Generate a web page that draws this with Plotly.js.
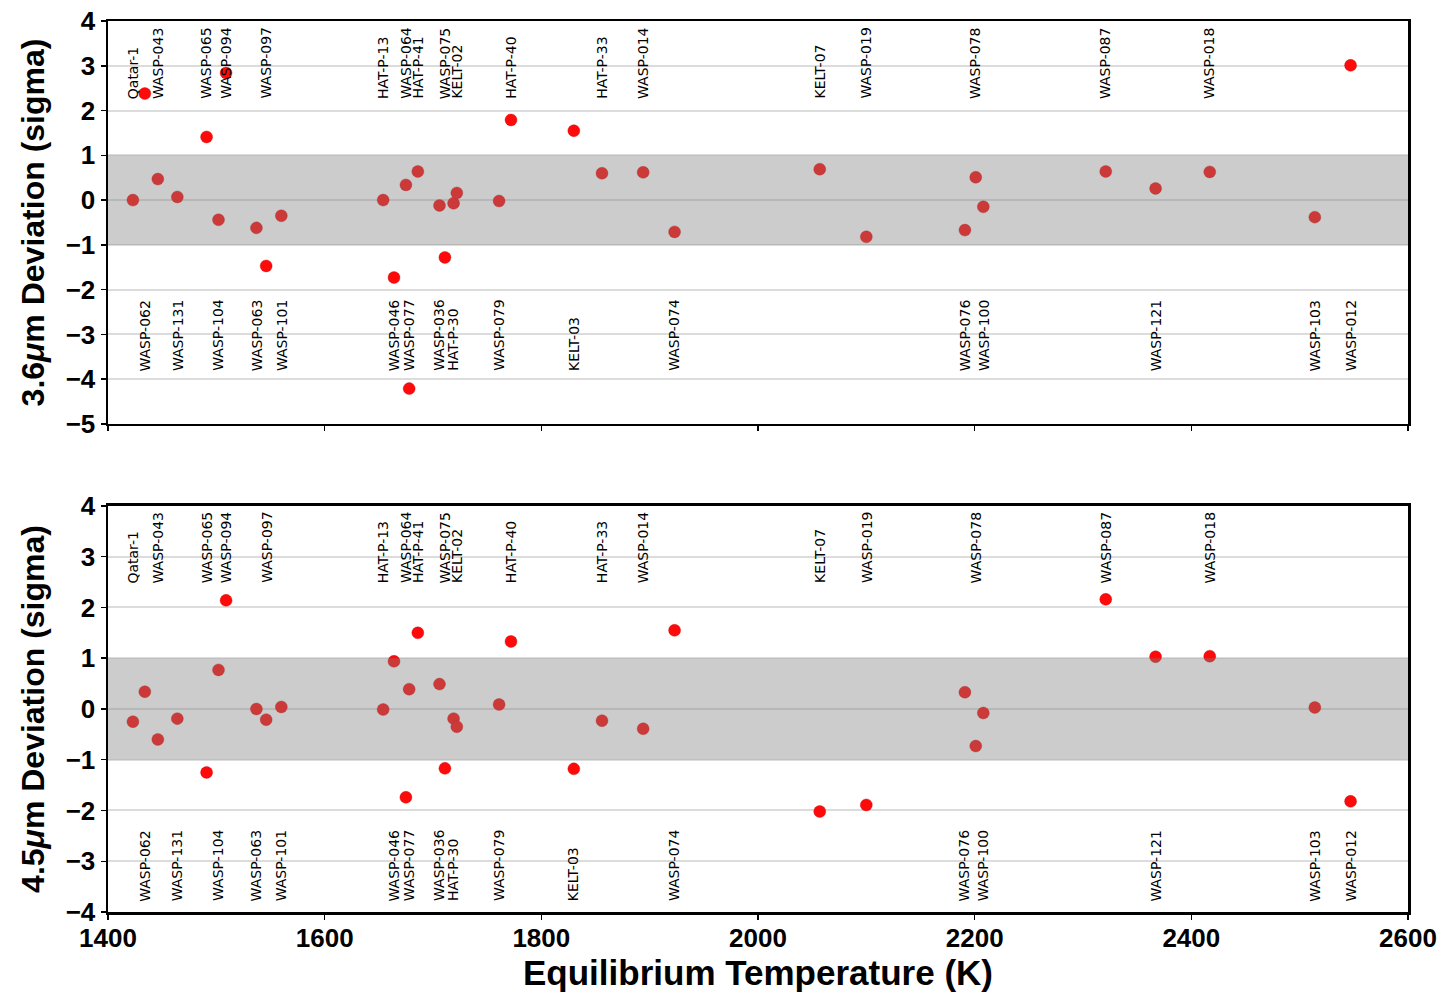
<!DOCTYPE html>
<html>
<head>
<meta charset="utf-8">
<script src="https://cdn.plot.ly/plotly-3.0.1.min.js"></script>
<style>
  html, body { margin: 0; padding: 0; background: white; }
  #chart { width: 1450px; height: 1002px; }
</style>
</head>
<body>
<div id="chart"></div>
<script>
// planets sorted by equilibrium temperature (K)
const planets = ['Qatar-1', 'WASP-062', 'WASP-043', 'WASP-131', 'WASP-065', 'WASP-104', 'WASP-094',
  'WASP-063', 'WASP-097', 'WASP-101', 'HAT-P-13', 'WASP-046', 'WASP-064', 'WASP-077', 'HAT-P-41',
  'WASP-036', 'WASP-075', 'HAT-P-30', 'KELT-02', 'WASP-079', 'HAT-P-40', 'KELT-03', 'HAT-P-33',
  'WASP-014', 'WASP-074', 'KELT-07', 'WASP-019', 'WASP-076', 'WASP-078', 'WASP-100', 'WASP-087',
  'WASP-121', 'WASP-018', 'WASP-103', 'WASP-012'];

const teq = [1423, 1434, 1446, 1464, 1491, 1502, 1509,
  1537, 1546, 1560, 1654, 1664, 1675, 1678, 1686,
  1706, 1711, 1719, 1722, 1761, 1772, 1830, 1856,
  1894, 1923, 2057, 2100, 2191, 2201, 2208, 2321,
  2367, 2417, 2514, 2547];

const dev36 = [0.00, 2.38, 0.47, 0.07, 1.41, -0.44, 2.84,
  -0.62, -1.47, -0.35, 0.00, -1.73, 0.34, -4.21, 0.64,
  -0.12, -1.28, -0.07, 0.16, -0.02, 1.79, 1.55, 0.60,
  0.62, -0.71, 0.69, -0.82, -0.67, 0.51, -0.15, 0.64,
  0.26, 0.63, -0.38, 3.01];

const dev45 = [-0.25, 0.34, -0.60, -0.19, -1.25, 0.77, 2.14,
  0.00, -0.21, 0.04, -0.01, 0.94, -1.74, 0.39, 1.50,
  0.49, -1.17, -0.19, -0.35, 0.09, 1.33, -1.18, -0.23,
  -0.39, 1.55, -2.02, -1.89, 0.33, -0.73, -0.08, 2.16,
  1.03, 1.04, 0.03, -1.82];

// names whose label sits in the lower row
const lowerRow = ['WASP-062', 'WASP-131', 'WASP-104', 'WASP-063', 'WASP-101', 'WASP-046', 'WASP-077',
  'WASP-036', 'HAT-P-30', 'WASP-079', 'KELT-03', 'WASP-074', 'WASP-076', 'WASP-100', 'WASP-121',
  'WASP-103', 'WASP-012'];

const xTicks = [1400, 1600, 1800, 2000, 2200, 2400, 2600];
const yTicks36 = [-5, -4, -3, -2, -1, 0, 1, 2, 3, 4];
const yTicks45 = [-4, -3, -2, -1, 0, 1, 2, 3, 4];

const tickFont = { family: 'Liberation Sans, Arial, sans-serif', size: 26, color: 'black', weight: 'bold' };
const titleFont = { family: 'Liberation Sans, Arial, sans-serif', size: 32, color: 'black', weight: 'bold' };

function minusText(v) {
  return v < 0 ? '\u2212' + Math.abs(v) : String(v);
}

function scatter(y, xa, ya) {
  return {
    x: teq, y: y, xaxis: xa, yaxis: ya,
    type: 'scatter', mode: 'markers',
    marker: { color: '#ff0a0a', size: 12, line: { color: 'rgba(190,0,0,0.6)', width: 0.6 } },
    hoverinfo: 'text', text: planets
  };
}

const axisCommon = {
  showline: true, mirror: true, linecolor: 'black', linewidth: 2.5,
  ticks: 'outside', ticklen: 5, tickwidth: 1.5, tickcolor: 'black',
  tickfont: tickFont, zeroline: false, fixedrange: true
};

function xaxis(anchor, showLabels) {
  return Object.assign({}, axisCommon, {
    anchor: anchor, range: [1400, 2600], tickvals: xTicks,
    showgrid: false, showticklabels: showLabels, ticklabelstandoff: -4
  });
}

function yaxis(anchor, domain, range, ticks) {
  return Object.assign({}, axisCommon, {
    anchor: anchor, domain: domain, range: range,
    tickvals: ticks, ticktext: ticks.map(minusText),
    showgrid: true, gridcolor: '#dcdcdc', gridwidth: 2
  });
}

const layout = {
  width: 1450, height: 1002,
  paper_bgcolor: 'white', plot_bgcolor: 'white',
  margin: { l: 108, r: 42, t: 21, b: 90 },
  showlegend: false,
  font: { family: 'DejaVu Sans, sans-serif', color: 'black' },
  xaxis: xaxis('y', false),
  yaxis: Object.assign(yaxis('x', [0.5477, 1], [-5, 4], yTicks36), {
    title: { text: '3.6<i>μ</i>m Deviation (sigma)', font: titleFont, standoff: 12 }
  }),
  xaxis2: Object.assign(xaxis('y2', true), {
    title: { text: 'Equilibrium Temperature (K)', font: Object.assign({}, titleFont, { size: 35 }), standoff: 6 }
  }),
  yaxis2: Object.assign(yaxis('x2', [0, 0.4557], [-4, 4], yTicks45), {
    title: { text: '4.5<i>μ</i>m Deviation (sigma)', font: titleFont, standoff: 12 }
  }),
  shapes: [
    { type: 'rect', xref: 'x domain', yref: 'y', x0: 0, x1: 1, y0: -1, y1: 1,
      fillcolor: 'rgba(128,128,128,0.4)', line: { width: 0 }, layer: 'above' },
    { type: 'rect', xref: 'x2 domain', yref: 'y2', x0: 0, x1: 1, y0: -1, y1: 1,
      fillcolor: 'rgba(128,128,128,0.4)', line: { width: 0 }, layer: 'above' }
  ],
  annotations: []
};

// planet name labels: upper row and lower row in each panel
const rowPos = {
  y: { upper: 0.802, lower: 0.126 },
  y2: { upper: 0.805, lower: 0.021 }
};
['x', 'x2'].forEach(function (xa) {
  const ya = xa === 'x' ? 'y' : 'y2';
  planets.forEach(function (name, i) {
    const low = lowerRow.indexOf(name) >= 0;
    layout.annotations.push({
      x: teq[i], xref: xa, y: low ? rowPos[ya].lower : rowPos[ya].upper, yref: ya + ' domain',
      text: name, textangle: -90, showarrow: false,
      xanchor: 'center', yanchor: 'bottom',
      font: { family: 'DejaVu Sans, sans-serif', size: 14, color: 'black' }
    });
  });
});

Plotly.newPlot('chart', [scatter(dev36, 'x', 'y'), scatter(dev45, 'x2', 'y2')], layout,
  { displayModeBar: false, staticPlot: true });
</script>
</body>
</html>
